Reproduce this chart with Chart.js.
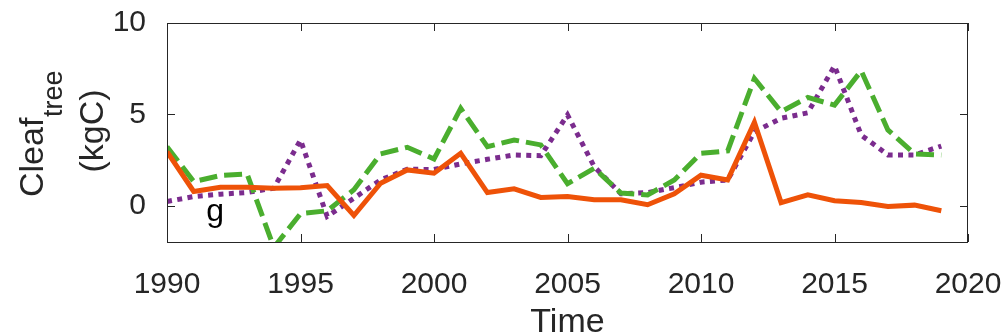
<!DOCTYPE html>
<html>
<head>
<meta charset="utf-8">
<script src="https://cdn.jsdelivr.net/npm/chart.js@4/dist/chart.umd.min.js"></script>
<style>
  html, body { margin: 0; padding: 0; background: #fff; }
  #wrap { position: relative; width: 1005px; height: 336px; }
</style>
</head>
<body>
<div id="wrap"><canvas id="leafChart" width="1005" height="336"></canvas></div>
<script>
// data
const years = [1990, 1991, 1992, 1993, 1994, 1995, 1996, 1997, 1998, 1999,
               2000, 2001, 2002, 2003, 2004, 2005, 2006, 2007, 2008, 2009,
               2010, 2011, 2012, 2013, 2014, 2015, 2016, 2017, 2018, 2019];
const solidSeries = [2.95, 0.77, 1.0, 1.0, 0.95, 0.97, 1.09, -0.55, 1.22, 1.95,
                     1.77, 2.86, 0.71, 0.91, 0.44, 0.49, 0.31, 0.31, 0.04, 0.64,
                     1.66, 1.40, 4.56, 0.16, 0.58, 0.26, 0.16, -0.05, 0.02, -0.29];
const dashedSeries = [3.22, 1.31, 1.64, 1.73, -2.3, -0.45, -0.29, 0.86, 2.83, 3.19,
                      2.55, 5.32, 3.22, 3.59, 3.32, 1.19, 2.04, 0.68, 0.58, 1.40,
                      2.86, 2.99, 6.96, 5.14, 5.92, 5.5, 7.38, 4.14, 2.83, 2.77];
const dottedSeries = [0.22, 0.49, 0.62, 0.71, 0.95, 3.59, -0.6, 0.40, 1.40, 1.99,
                      1.97, 2.28, 2.53, 2.77, 2.73, 4.96, 2.13, 0.64, 0.71, 0.98,
                      1.28, 1.40, 4.04, 4.78, 5.08, 7.65, 3.86, 2.77, 2.77, 3.26];
const xTicks = [1990, 1995, 2000, 2005, 2010, 2015, 2020];
const yTicks = [0, 5, 10];

const axisColor = "#262626";
const fontFamily = "'Liberation Sans', Arial, sans-serif";

function toPoints(vals) {
    return years.map((yr, i) => ({ x: yr, y: vals[i] }));
}

// no extra room for overhanging tick labels, the box is fixed by layout padding
function noLabelPadding(s) {
    s.paddingTop = 0;
    s.paddingBottom = 0;
    s.paddingLeft = 0;
    s.paddingRight = 0;
}

// box + inward tick marks + texts (MATLAB look)
const boxPlugin = {
    id: "boxPlugin",
    afterDraw(chart) {
        const ctx = chart.ctx;
        const a = chart.chartArea;
        const xs = chart.scales.x, ys = chart.scales.y;
        ctx.save();
        ctx.strokeStyle = axisColor;
        ctx.lineWidth = 1;
        ctx.strokeRect(a.left + 0.5, a.top + 0.5, a.right - a.left - 1, a.bottom - a.top);
        ctx.beginPath();
        xTicks.forEach(t => {
            const px = Math.round(xs.getPixelForValue(t)) + 0.5;
            ctx.moveTo(px, a.bottom); ctx.lineTo(px, a.bottom - 8);
            ctx.moveTo(px, a.top); ctx.lineTo(px, a.top + 8);
        });
        yTicks.forEach(t => {
            const py = Math.round(ys.getPixelForValue(t)) + 0.5;
            ctx.moveTo(a.left, py); ctx.lineTo(a.left + 8, py);
            ctx.moveTo(a.right, py); ctx.lineTo(a.right - 8, py);
        });
        ctx.stroke();

        // panel letter
        ctx.fillStyle = "#000";
        ctx.font = "32px " + fontFamily;
        ctx.textAlign = "center";
        ctx.textBaseline = "alphabetic";
        ctx.fillText("g", xs.getPixelForValue(1991.8), ys.getPixelForValue(-0.85));

        // x title
        ctx.fillStyle = axisColor;
        ctx.font = "34px " + fontFamily;
        ctx.fillText("Time", (a.left + a.right) / 2, 332);

        // y title, rotated, with subscript
        ctx.rotate(-Math.PI / 2);
        ctx.textAlign = "left";
        ctx.font = "34px " + fontFamily;
        ctx.fillText("Cleaf", -197, 43);
        ctx.font = "27px " + fontFamily;
        ctx.fillText("tree", -117, 62);
        ctx.textAlign = "center";
        ctx.font = "34px " + fontFamily;
        ctx.fillText("(kgC)", -131, 103);
        ctx.restore();
    }
};

const ctx = document.getElementById("leafChart").getContext("2d");
new Chart(ctx, {
    type: "line",
    data: {
        datasets: [
            {
                label: "solid",
                data: toPoints(solidSeries),
                borderColor: "#ee5208",
                borderWidth: 5,
                pointRadius: 0,
                tension: 0,
                clip: 0,
                order: 0
            },
            {
                label: "dashed",
                data: toPoints(dashedSeries),
                borderColor: "#4aae2e",
                borderWidth: 5,
                borderDash: [18, 7],
                pointRadius: 0,
                tension: 0,
                clip: 0,
                order: 1
            },
            {
                label: "dotted",
                data: toPoints(dottedSeries),
                borderColor: "#7b2c8e",
                borderWidth: 5,
                borderDash: [5, 5.4],
                pointRadius: 0,
                tension: 0,
                clip: 0,
                order: 2
            }
        ]
    },
    options: {
        responsive: false,
        animation: false,
        events: [],
        layout: { padding: { top: 23, right: 37, left: 0, bottom: 0 } },
        plugins: {
            legend: { display: false },
            tooltip: { enabled: false }
        },
        scales: {
            x: {
                type: "linear",
                min: 1990,
                max: 2020,
                afterBuildTicks: s => { s.ticks = xTicks.map(v => ({ value: v })); },
                afterFit: s => { s.height = 94; noLabelPadding(s); },
                grid: { display: false },
                border: { display: false },
                ticks: {
                    color: axisColor,
                    font: { family: fontFamily, size: 30 },
                    padding: 17,
                    maxRotation: 0,
                    callback: v => String(v)
                }
            },
            y: {
                min: -2,
                max: 10,
                afterBuildTicks: s => { s.ticks = yTicks.map(v => ({ value: v })); },
                afterFit: s => { s.width = 167; noLabelPadding(s); },
                grid: { display: false },
                border: { display: false },
                ticks: {
                    color: axisColor,
                    font: { family: fontFamily, size: 30 },
                    padding: 13
                }
            }
        }
    },
    plugins: [boxPlugin]
});
</script>
</body>
</html>
